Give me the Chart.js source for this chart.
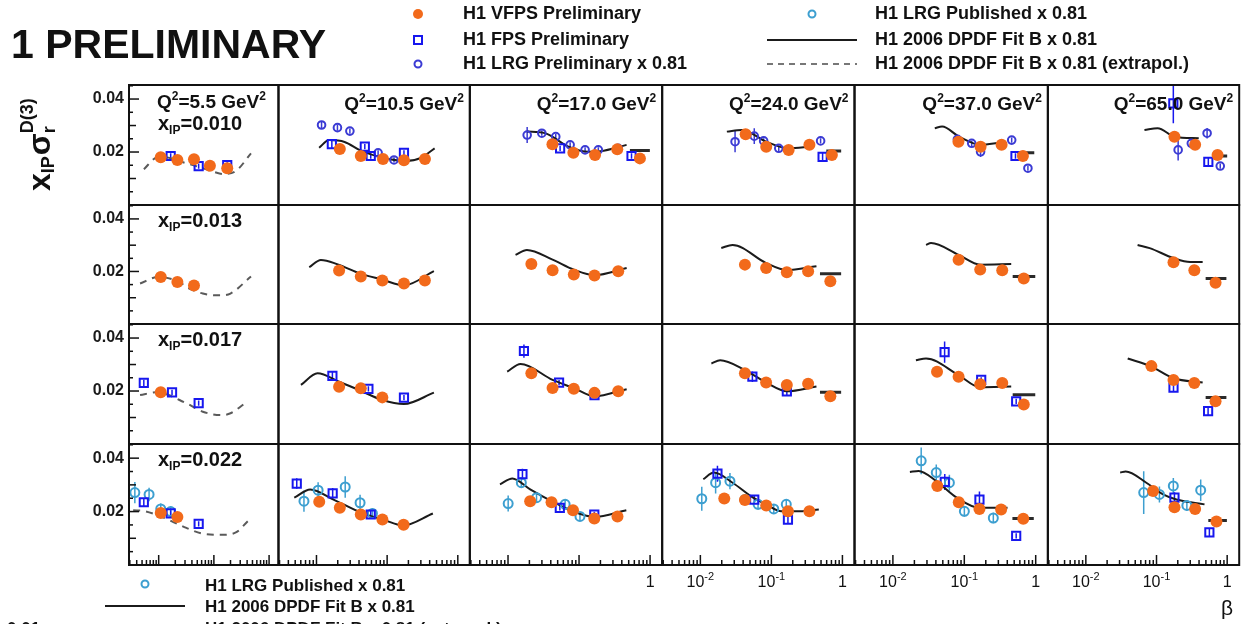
<!DOCTYPE html>
<html>
<head>
<meta charset="utf-8">
<title>H1 diffractive reduced cross section</title>
<script src="https://cdn.jsdelivr.net/npm/chart.js@4.4.1/dist/chart.umd.min.js"></script>
<style>
  html, body { margin: 0; padding: 0; background: #fff; }
  #wrap { position: relative; width: 1247px; height: 624px; }
</style>
</head>
<body>
<div id="wrap"><canvas id="grid"></canvas></div>
<script>
// Q^2 bins (columns) and x_IP bins (rows)
const Q2_BINS = ['5.5', '10.5', '17.0', '24.0', '37.0', '65.0'];
const XPOM_BINS = ['0.010', '0.013', '0.017', '0.022'];

// points are [beta, x_IP*sigma_r, error]; one list per Q^2 column

// x_IP = 0.010
const vfps010 = [
  [[0.0109, 0.0180], [0.0218, 0.0170], [0.0436, 0.0173], [0.0847, 0.0148], [0.1745, 0.0139]],
  [[0.0214, 0.0211], [0.0424, 0.0185], [0.0874, 0.0174], [0.173, 0.0169], [0.343, 0.0174]],
  [[0.0422, 0.0229], [0.0832, 0.0197], [0.168, 0.0189], [0.345, 0.0210], [0.719, 0.0176]],
  [[0.0434, 0.0267], [0.0846, 0.0220], [0.175, 0.0208], [0.343, 0.0227], [0.710, 0.0189]],
  [[0.0828, 0.0239], [0.169, 0.0220], [0.333, 0.0227], [0.662, 0.0185]],
  [[0.1795, 0.0258], [0.352, 0.0227], [0.731, 0.0189]]
];
const fps010 = [
  [[0.0165, 0.0185, 0.001], [0.053, 0.0147, 0.001], [0.1745, 0.0151, 0.001]],
  [[0.0165, 0.0230, 0.0015], [0.0483, 0.0220, 0.001], [0.0586, 0.0185, 0.001], [0.173, 0.0197, 0.001]],
  [[0.0541, 0.0214, 0.001], [0.548, 0.0185, 0.001]],
  [[0.526, 0.0182, 0.0015]],
  [[0.521, 0.0185, 0.001]],
  [[0.173, 0.0384, 0.0075], [0.541, 0.0163, 0.0015]]
];
const lrgPre010 = [
  [],
  [[0.0118, 0.0302, 0.0015], [0.0198, 0.0292, 0.0012], [0.0297, 0.0279, 0.001], [0.0745, 0.0197, 0.001], [0.125, 0.0170, 0.001]],
  [[0.0186, 0.0264, 0.003], [0.0299, 0.0271, 0.001], [0.047, 0.0258, 0.001], [0.0749, 0.0227, 0.001], [0.1216, 0.0208, 0.001], [0.1868, 0.0208, 0.001], [0.356, 0.0214, 0.001]],
  [[0.0308, 0.0239, 0.004], [0.0574, 0.0260, 0.003], [0.0778, 0.0242, 0.001], [0.127, 0.0214, 0.001], [0.493, 0.0242, 0.001]],
  [[0.080, 0.0248, 0.001], [0.127, 0.0233, 0.001], [0.169, 0.0201, 0.002], [0.461, 0.0245, 0.001], [0.778, 0.0139, 0.001]],
  [[0.2024, 0.0208, 0.004], [0.311, 0.0233, 0.002], [0.520, 0.0271, 0.002], [0.798, 0.0147, 0.001]]
];
const fit010 = [
  [[0.0054, 0.0135], [0.0091, 0.0178], [0.013, 0.0180], [0.024, 0.0165], [0.055, 0.0143], [0.10, 0.0125], [0.15, 0.0117], [0.25, 0.0128], [0.47, 0.0195]],
  [[0.0109, 0.0216], [0.0151, 0.0245], [0.025, 0.0238], [0.0424, 0.0205], [0.0874, 0.0178], [0.183, 0.0166], [0.30, 0.0178], [0.47, 0.0214]],
  [[0.0184, 0.0277], [0.0333, 0.0271], [0.0708, 0.0220], [0.135, 0.0201], [0.20, 0.0203], [0.467, 0.0227]],
  [[0.0236, 0.0277], [0.0383, 0.0283], [0.0846, 0.0239], [0.175, 0.0214], [0.363, 0.0220]],
  [[0.0386, 0.0290], [0.0489, 0.0296], [0.0845, 0.0258], [0.1695, 0.0227], [0.316, 0.0235]],
  [[0.0675, 0.0283], [0.1036, 0.0290], [0.18, 0.0258], [0.396, 0.0252]]
];
const bar010 = [null, null, [0.52, 0.993, 0.0206], [0.593, 0.96, 0.0204], [0.555, 0.955, 0.0197], [0.70, 1.0, 0.0185]];

// x_IP = 0.013
const vfps013 = [
  [[0.0109, 0.0179], [0.0218, 0.0160], [0.0436, 0.0147]],
  [[0.0209, 0.0204], [0.0424, 0.0181], [0.0855, 0.0166], [0.173, 0.0154], [0.342, 0.0166]],
  [[0.0213, 0.0228], [0.0424, 0.0205], [0.0844, 0.0188], [0.165, 0.0185], [0.356, 0.0201]],
  [[0.0424, 0.0226], [0.0843, 0.0213], [0.165, 0.0197], [0.329, 0.0201], [0.676, 0.0163]],
  [[0.0832, 0.0245], [0.167, 0.0207], [0.340, 0.0205], [0.681, 0.0173]],
  [[0.174, 0.0235], [0.343, 0.0205], [0.685, 0.0157]]
];
const fit013 = [
  [[0.0046, 0.0154], [0.0098, 0.0179], [0.0236, 0.0160], [0.0317, 0.0141], [0.063, 0.0116], [0.127, 0.0109], [0.20, 0.0116], [0.47, 0.0181]],
  [[0.0079, 0.0216], [0.01155, 0.0244], [0.02, 0.0227], [0.0424, 0.0191], [0.0855, 0.0169], [0.173, 0.0147], [0.459, 0.0201]],
  [[0.01276, 0.0263], [0.01845, 0.0282], [0.0424, 0.0245], [0.0844, 0.0207], [0.165, 0.0186], [0.468, 0.0213]],
  [[0.0197, 0.0289], [0.0284, 0.0301], [0.0843, 0.0232], [0.165, 0.0205], [0.431, 0.0220]],
  [[0.0291, 0.0301], [0.0342, 0.0308], [0.0832, 0.0263], [0.167, 0.0226], [0.454, 0.0228]],
  [[0.054, 0.0301], [0.08, 0.0289], [0.174, 0.0251], [0.30, 0.0236], [0.45, 0.0236]]
];
const bar013 = [null, null, null, [0.483, 0.959, 0.0191], [0.476, 0.986, 0.0181], [0.496, 0.975, 0.0173]];

// x_IP = 0.017
const vfps017 = [
  [[0.0109, 0.0195]],
  [[0.0209, 0.0216], [0.0424, 0.0210], [0.0855, 0.0176]],
  [[0.0213, 0.0267], [0.0424, 0.0211], [0.0844, 0.0209], [0.165, 0.0193], [0.356, 0.0199]],
  [[0.0424, 0.0267], [0.0843, 0.0232], [0.165, 0.0223], [0.329, 0.0227], [0.676, 0.0180]],
  [[0.0415, 0.0273], [0.0832, 0.0254], [0.167, 0.0226], [0.340, 0.0230], [0.681, 0.0149]],
  [[0.0846, 0.0294], [0.174, 0.0242], [0.343, 0.0230], [0.685, 0.0161]]
];
const fps017 = [
  [[0.00538, 0.0231, 0.0012], [0.01745, 0.0195, 0.001], [0.053, 0.0154, 0.001]],
  [[0.0168, 0.0257, 0.0015], [0.0543, 0.0208, 0.001], [0.173, 0.0175, 0.001]],
  [[0.01675, 0.0351, 0.0025], [0.0523, 0.0232, 0.001], [0.165, 0.0184, 0.001]],
  [[0.054, 0.0254, 0.002], [0.165, 0.0199, 0.0015]],
  [[0.053, 0.0347, 0.004], [0.1725, 0.0242, 0.001], [0.533, 0.0161, 0.001]],
  [[0.174, 0.0213, 0.0015], [0.537, 0.0124, 0.0015]]
];
const fit017 = [
  [[0.0046, 0.0185], [0.0091, 0.0195], [0.0317, 0.0154], [0.063, 0.0122], [0.136, 0.0109], [0.20, 0.0116], [0.41, 0.0162]],
  [[0.00603, 0.0223], [0.01035, 0.0267], [0.0209, 0.0235], [0.0424, 0.0201], [0.0855, 0.0166], [0.173, 0.0151], [0.459, 0.0194]],
  [[0.00973, 0.0273], [0.0150, 0.0302], [0.0424, 0.0242], [0.0844, 0.0211], [0.165, 0.0180], [0.468, 0.0207]],
  [[0.0143, 0.0304], [0.019, 0.0316], [0.0424, 0.0279], [0.0843, 0.0232], [0.165, 0.0199], [0.431, 0.0217]],
  [[0.021, 0.0316], [0.0291, 0.0323], [0.0832, 0.0260], [0.167, 0.0214], [0.454, 0.0217]],
  [[0.0391, 0.0323], [0.0846, 0.0292], [0.174, 0.0248], [0.45, 0.0232]]
];
const bar017 = [null, null, null, [0.483, 0.959, 0.0195], [0.476, 0.986, 0.0186], [0.496, 0.975, 0.0176]];

// x_IP = 0.022
const vfps022 = [
  [[0.0109, 0.0195], [0.0218, 0.0180]],
  [[0.01094, 0.0237], [0.0214, 0.0214], [0.0424, 0.0189], [0.0857, 0.0170], [0.171, 0.0151]],
  [[0.0205, 0.0239], [0.041, 0.0235], [0.0822, 0.0205], [0.164, 0.0174], [0.3475, 0.0182]],
  [[0.0217, 0.0249], [0.0424, 0.0243], [0.0846, 0.0223], [0.171, 0.0201], [0.343, 0.0201]],
  [[0.0419, 0.0296], [0.0837, 0.0235], [0.163, 0.0210], [0.328, 0.0208], [0.670, 0.0173]],
  [[0.0895, 0.0277], [0.1795, 0.0216], [0.352, 0.0210], [0.705, 0.0163]]
];
const fps022 = [
  [[0.00538, 0.0235, 0.0015], [0.0165, 0.0193, 0.0012], [0.053, 0.0154, 0.001]],
  [[0.00526, 0.0305, 0.002], [0.01695, 0.0268, 0.002], [0.0586, 0.0189, 0.0015]],
  [[0.01596, 0.0340, 0.002], [0.0536, 0.0214, 0.001], [0.164, 0.0189, 0.001]],
  [[0.0174, 0.0342, 0.003], [0.0574, 0.0245, 0.0015], [0.171, 0.0170, 0.0015]],
  [[0.0533, 0.0311, 0.003], [0.163, 0.0245, 0.003], [0.533, 0.0109, 0.001]],
  [[0.1795, 0.0252, 0.002], [0.560, 0.0122, 0.0015]]
];
const lrgPub022 = [
  [[0.0037, 0.0271, 0.004], [0.0067, 0.0264, 0.0025], [0.0109, 0.0210, 0.002], [0.0165, 0.0200, 0.002]],
  [[0.00665, 0.0239, 0.004], [0.01055, 0.0280, 0.003], [0.0255, 0.0292, 0.004], [0.0414, 0.0233, 0.003], [0.0619, 0.0193, 0.002]],
  [[0.01005, 0.0230, 0.003], [0.0154, 0.0308, 0.002], [0.0252, 0.0252, 0.002], [0.0637, 0.0227, 0.002], [0.103, 0.0182, 0.0015]],
  [[0.01047, 0.0248, 0.0045], [0.0164, 0.0308, 0.004], [0.0261, 0.0314, 0.003], [0.0424, 0.0245, 0.002], [0.0649, 0.0227, 0.002], [0.108, 0.0210, 0.0015], [0.162, 0.0227, 0.002]],
  [[0.0249, 0.0390, 0.005], [0.0405, 0.0346, 0.003], [0.0618, 0.0308, 0.003], [0.1002, 0.0201, 0.002], [0.255, 0.0176, 0.002]],
  [[0.0659, 0.0271, 0.008], [0.110, 0.0264, 0.003], [0.173, 0.0296, 0.003], [0.269, 0.0223, 0.002], [0.422, 0.0280, 0.004]]
];
const fit022 = [
  [[0.00345, 0.0205], [0.0054, 0.0202], [0.0105, 0.0183], [0.0317, 0.0139], [0.063, 0.0117], [0.136, 0.0113], [0.25, 0.0122], [0.41, 0.0164]],
  [[0.00485, 0.0252], [0.00817, 0.0283], [0.0174, 0.0245], [0.0436, 0.0195], [0.0875, 0.0170], [0.1676, 0.0148], [0.444, 0.0193]],
  [[0.00771, 0.0302], [0.01154, 0.0324], [0.0205, 0.0283], [0.041, 0.0239], [0.0822, 0.0201], [0.164, 0.0180], [0.463, 0.0205]],
  [[0.011, 0.0321], [0.0155, 0.0346], [0.0284, 0.0308], [0.0553, 0.0252], [0.0846, 0.0227], [0.138, 0.0201], [0.253, 0.0201], [0.465, 0.0208]],
  [[0.0173, 0.0348], [0.0229, 0.0352], [0.0405, 0.0314], [0.0787, 0.0252], [0.163, 0.0214], [0.403, 0.0214]],
  [[0.0306, 0.0346], [0.0366, 0.0350], [0.0718, 0.0308], [0.124, 0.0264], [0.191, 0.0245], [0.478, 0.0227]]
];
const bar022 = [null, null, null, null, [0.472, 0.94, 0.0174], [0.541, 0.991, 0.0167]];

const VFPS = [vfps010, vfps013, vfps017, vfps022];
const FPS = [fps010, null, fps017, fps022];
const LRG_PRE = [lrgPre010, null, null, null];
const LRG_PUB = [null, null, null, lrgPub022];
const FIT = [fit010, fit013, fit017, fit022];
const FIT_BAR = [bar010, bar013, bar017, bar022];

// frame geometry
const COL_W = [150, 192, 193, 193, 194, 192];
const ROW_H = [120, 119, 120, 121];
const BETA_MIN = 0.0029, BETA_MAX = 1.48, Y_MAX = 0.0453;

const FONT = '"Liberation Sans", Arial, Helvetica, sans-serif';
const ORANGE = '#f26a1b';
const BLUE = '#1717ee';
const LRG_PRE_COLOR = '#3b3bd4';
const LRG_PUB_COLOR = '#3d9fd0';
const FIT_COLOR = '#1b1b1b';
const EXTRAP_COLOR = '#5a5a5a';

const toPts = list => list.map(([x, y, e]) => ({ x, y, e }));

const datasets = [];
for (let r = 0; r < 4; r++) {
  for (let c = 0; c < 6; c++) {
    const ids = { xAxisID: 'x' + c, yAxisID: 'y' + r };
    const fit = FIT[r][c];
    if (fit) {
      datasets.push({
        ...ids, data: toPts(fit), showLine: true, pointRadius: 0,
        borderColor: c === 0 ? EXTRAP_COLOR : FIT_COLOR, borderWidth: 2,
        borderDash: c === 0 ? [7, 6] : [], cubicInterpolationMode: 'monotone', order: 6
      });
    }
    const bar = FIT_BAR[r][c];
    if (bar) {
      datasets.push({
        ...ids, data: [{ x: bar[0], y: bar[2] }, { x: bar[1], y: bar[2] }],
        showLine: true, pointRadius: 0, borderColor: '#2a2a2a', borderWidth: 3, order: 6
      });
    }
    if (LRG_PUB[r]) {
      datasets.push({
        ...ids, data: toPts(LRG_PUB[r][c]), pointStyle: 'circle', pointRadius: 4.5,
        borderColor: LRG_PUB_COLOR, backgroundColor: 'rgba(255,255,255,0)', borderWidth: 2,
        errColor: LRG_PUB_COLOR, order: 4
      });
    }
    if (LRG_PRE[r]) {
      datasets.push({
        ...ids, data: toPts(LRG_PRE[r][c]), pointStyle: 'circle', pointRadius: 3.8,
        borderColor: LRG_PRE_COLOR, backgroundColor: 'rgba(255,255,255,0)', borderWidth: 2,
        errColor: LRG_PRE_COLOR, order: 3
      });
    }
    if (FPS[r]) {
      datasets.push({
        ...ids, data: toPts(FPS[r][c]), pointStyle: 'rect', pointRadius: 5.8,
        borderColor: BLUE, backgroundColor: 'rgba(255,255,255,0)', borderWidth: 2,
        errColor: BLUE, order: 2
      });
    }
    datasets.push({
      ...ids, data: toPts(VFPS[r][c]).map(p => ({ ...p, e: p.e || 0.0009 })),
      pointStyle: 'circle', pointRadius: 6, backgroundColor: ORANGE, borderColor: ORANGE,
      borderWidth: 0, errColor: ORANGE, errWidth: 2, order: 0
    });
  }
}

const scales = {};
COL_W.forEach((w, c) => {
  scales['x' + c] = {
    type: 'logarithmic', position: 'bottom', stack: 'cols', stackWeight: w,
    min: BETA_MIN, max: BETA_MAX,
    grid: { display: false, drawTicks: false }, border: { display: false },
    ticks: { display: false },
    afterFit: s => { s.height = 40; }
  };
});
// the left stack is filled from the bottom, so the lowest row goes in first
for (let r = ROW_H.length - 1; r >= 0; r--) {
  scales['y' + r] = {
    type: 'linear', position: 'left', stack: 'rows', stackWeight: ROW_H[r],
    min: 0, max: Y_MAX,
    grid: { display: false, drawTicks: false }, border: { display: false },
    afterBuildTicks: s => { s.ticks = [{ value: 0.02 }, { value: 0.04 }]; },
    ticks: {
      autoSkip: false, padding: 5, color: '#1a1a1a',
      font: { family: FONT, size: 16, weight: 'bold' },
      callback: v => v.toFixed(2)
    },
    afterFit: s => { s.width = 60; }
  };
}

// text with sub/superscripts: parts = [{t, s, dy}]
function richText(ctx, x, y, parts, align) {
  let total = 0;
  parts.forEach(p => {
    ctx.font = `bold ${p.s}px ${FONT}`;
    p.w = ctx.measureText(p.t).width;
    total += p.w;
  });
  let cx = align === 'right' ? x - total : x;
  parts.forEach(p => {
    ctx.font = `bold ${p.s}px ${FONT}`;
    ctx.fillText(p.t, cx, y + (p.dy || 0));
    cx += p.w;
  });
}

function seg(ctx, x1, y1, x2, y2) {
  ctx.beginPath(); ctx.moveTo(x1, y1); ctx.lineTo(x2, y2); ctx.stroke();
}

const decor = {
  id: 'decor',
  beforeDatasetsDraw(chart) {
    const ctx = chart.ctx;
    chart.data.datasets.forEach(ds => {
      if (!ds.errColor) return;
      const xs = chart.scales[ds.xAxisID], ys = chart.scales[ds.yAxisID];
      ctx.save();
      ctx.beginPath();
      ctx.rect(xs.left, ys.top, xs.width, ys.height);
      ctx.clip();
      ctx.strokeStyle = ds.errColor;
      ctx.lineWidth = ds.errWidth || 1.5;
      ds.data.forEach(d => {
        if (!d.e) return;
        const x = xs.getPixelForValue(d.x);
        seg(ctx, x, ys.getPixelForValue(d.y + d.e), x, ys.getPixelForValue(d.y - d.e));
      });
      ctx.restore();
    });
  },
  afterDatasetsDraw(chart) {
    const ctx = chart.ctx;
    const xsAll = COL_W.map((_, c) => chart.scales['x' + c]);
    const ysAll = ROW_H.map((_, r) => chart.scales['y' + r]);
    ctx.save();
    ctx.strokeStyle = '#111';
    ctx.lineWidth = 2;
    xsAll.forEach(xs => ysAll.forEach(ys => ctx.strokeRect(xs.left, ys.top, xs.width, ys.height)));

    // y ticks inside the first column
    ctx.lineWidth = 1.5;
    const left = xsAll[0].left;
    ysAll.forEach(ys => {
      for (let k = 1; k <= 9; k++) {
        const y = ys.getPixelForValue(k * 0.005);
        const len = k % 4 === 0 ? 10 : (k % 2 === 0 ? 7 : 4);
        seg(ctx, left, y, left + len, y);
      }
    });
    // log beta ticks along the bottom row
    const yb = ysAll[3].bottom;
    xsAll.forEach(xs => {
      for (let n = -3; n <= 0; n++) {
        for (let k = 1; k <= 9; k++) {
          const b = k * Math.pow(10, n);
          if (b < BETA_MIN || b > BETA_MAX) continue;
          const x = xs.getPixelForValue(b);
          seg(ctx, x, yb, x, yb - (k === 1 ? 10 : 5));
        }
      }
    });
    ctx.restore();
  },
  afterDraw(chart) {
    const ctx = chart.ctx;
    const xsAll = COL_W.map((_, c) => chart.scales['x' + c]);
    const ysAll = ROW_H.map((_, r) => chart.scales['y' + r]);
    ctx.save();
    ctx.fillStyle = '#111';
    ctx.textBaseline = 'alphabetic';
    ctx.textAlign = 'left';

    // title
    ctx.font = `bold 41px ${FONT}`;
    ctx.fillText('1 PRELIMINARY', 11, 58);

    // legend, top
    ctx.fillStyle = ORANGE;
    ctx.beginPath(); ctx.arc(418, 14, 5, 0, Math.PI * 2); ctx.fill();
    ctx.lineWidth = 2;
    ctx.strokeStyle = BLUE;
    ctx.strokeRect(414, 36, 8, 8);
    ctx.strokeStyle = LRG_PRE_COLOR;
    ctx.beginPath(); ctx.arc(418, 64, 3.5, 0, Math.PI * 2); ctx.stroke();
    ctx.strokeStyle = LRG_PUB_COLOR;
    ctx.beginPath(); ctx.arc(812, 14, 3.5, 0, Math.PI * 2); ctx.stroke();
    ctx.strokeStyle = FIT_COLOR;
    seg(ctx, 767, 40, 857, 40);
    ctx.strokeStyle = '#777';
    ctx.setLineDash([6, 5]);
    seg(ctx, 767, 64, 857, 64);
    ctx.setLineDash([]);

    ctx.fillStyle = '#111';
    ctx.font = `bold 18px ${FONT}`;
    ctx.fillText('H1 VFPS Preliminary', 463, 19);
    ctx.fillText('H1 FPS Preliminary', 463, 45);
    ctx.fillText('H1 LRG Preliminary x 0.81', 463, 69);
    ctx.fillText('H1 LRG Published x 0.81', 875, 19);
    ctx.fillText('H1 2006 DPDF Fit B x 0.81', 875, 45);
    ctx.fillText('H1 2006 DPDF Fit B x 0.81 (extrapol.)', 875, 69);

    // legend, bottom left
    ctx.strokeStyle = LRG_PUB_COLOR;
    ctx.beginPath(); ctx.arc(145, 584, 3.5, 0, Math.PI * 2); ctx.stroke();
    ctx.strokeStyle = FIT_COLOR;
    seg(ctx, 105, 606, 185, 606);
    ctx.font = `bold 17px ${FONT}`;
    ctx.fillText('H1 LRG Published x 0.81', 205, 591);
    ctx.fillText('H1 2006 DPDF Fit B x 0.81', 205, 612);
    ctx.fillText('H1 2006 DPDF Fit B x 0.81 (extrapol.)', 205, 634);
    ctx.fillText('0.01', 7, 634);

    // Q^2 labels
    const sup = { s: 12, dy: -8 };
    Q2_BINS.forEach((q, c) => {
      const xs = xsAll[c];
      const parts = [{ t: 'Q', s: 19 }, { t: '2', ...sup }, { t: '=' + q + ' GeV', s: 19 }, { t: '2', ...sup }];
      if (c === 0) richText(ctx, xs.left + 28, ysAll[0].top + 23, parts);
      else richText(ctx, xs.right - 6, ysAll[0].top + 25, parts, 'right');
    });
    // x_IP labels
    XPOM_BINS.forEach((xp, r) => {
      const y = ysAll[r].top + (r === 0 ? 45 : 22);
      richText(ctx, xsAll[0].left + 29, y, [{ t: 'x', s: 20 }, { t: 'IP', s: 12, dy: 4 }, { t: '=' + xp, s: 20 }]);
    });

    // y-axis title, rotated
    ctx.save();
    ctx.translate(50, 191);
    ctx.rotate(-Math.PI / 2);
    let a = 0;
    ctx.font = `bold 32px ${FONT}`;
    ctx.fillText('x', a, 0); a += ctx.measureText('x').width;
    ctx.font = `bold 18px ${FONT}`;
    ctx.fillText('IP', a, 4); a += ctx.measureText('IP').width + 1;
    ctx.font = `bold 32px ${FONT}`;
    ctx.fillText('\u03C3', a, 0); a += ctx.measureText('\u03C3').width;
    ctx.font = `bold 18px ${FONT}`;
    ctx.fillText('r', a, 5);
    ctx.fillText('D(3)', a, -17);
    ctx.restore();

    // beta tick labels on the visible part of the bottom axis
    const yl = ysAll[3].bottom + 22;
    xsAll.forEach((xs, c) => {
      if (c < 2) return;
      const list = c === 2 ? [[1, '1', '']] : [[0.01, '10', '-2'], [0.1, '10', '-1'], [1, '1', '']];
      list.forEach(([b, base, exp]) => {
        const x = xs.getPixelForValue(b);
        ctx.font = `16px ${FONT}`;
        const w1 = ctx.measureText(base).width;
        ctx.font = `11px ${FONT}`;
        const w2 = exp ? ctx.measureText(exp).width : 0;
        const x0 = x - (w1 + w2) / 2;
        ctx.font = `16px ${FONT}`;
        ctx.fillText(base, x0, yl);
        if (exp) {
          ctx.font = `11px ${FONT}`;
          ctx.fillText(exp, x0 + w1, yl - 7);
        }
      });
    });
    ctx.font = `21px ${FONT}`;
    ctx.textAlign = 'center';
    ctx.fillText('\u03B2', 1227, 615);
    ctx.restore();
  }
};

new Chart(document.getElementById('grid'), {
  type: 'scatter',
  data: { datasets },
  options: {
    responsive: true,
    maintainAspectRatio: false,
    animation: false,
    layout: { padding: { left: 69, right: 4, top: 85, bottom: 19 } },
    scales,
    plugins: {
      legend: { display: false },
      tooltip: { enabled: false }
    },
    events: []
  },
  plugins: [decor]
});
</script>
</body>
</html>
